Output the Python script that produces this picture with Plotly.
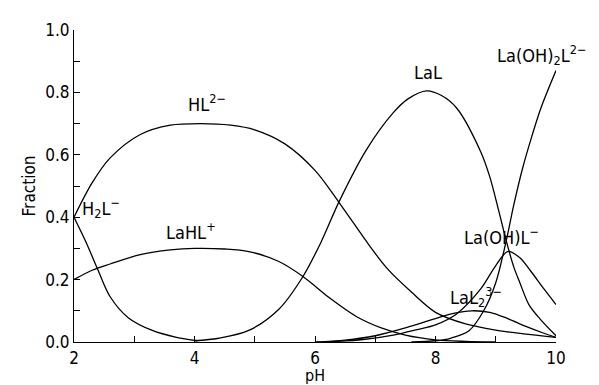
import plotly.graph_objects as go

# ---- data ----
ph_h2l = [2.0, 2.2, 2.4, 2.6, 2.9, 3.3, 3.7, 4.05]
fr_h2l = [0.40, 0.32, 0.23, 0.145, 0.078, 0.037, 0.015, 0.004]

ph_hl = [2.0, 2.3, 2.6, 3.1, 3.6, 4.1, 4.6, 5.0, 5.5, 6.0, 6.4, 6.9, 7.2, 7.6, 8.0, 8.5, 9.0, 9.5, 10.0]
fr_hl = [0.40, 0.51, 0.59, 0.665, 0.695, 0.70, 0.695, 0.68, 0.635, 0.55, 0.447, 0.31, 0.235, 0.16, 0.095, 0.058, 0.038, 0.025, 0.015]

ph_lahl = [2.0, 2.3, 2.6, 3.1, 3.6, 4.0, 4.5, 4.9, 5.4, 5.8, 6.25, 6.7, 7.1, 7.5, 8.0, 8.5, 9.0]
fr_lahl = [0.20, 0.23, 0.25, 0.28, 0.295, 0.30, 0.298, 0.29, 0.258, 0.21, 0.14, 0.08, 0.045, 0.022, 0.007, 0.002, 0.0]

ph_lal = [4.0, 4.4, 4.9, 5.4, 5.8, 6.1, 6.4, 6.85, 7.3, 7.55, 7.85, 8.1, 8.35, 8.75, 8.9, 9.05, 9.18, 9.3, 9.4, 9.55, 9.73, 10.0]
fr_lal = [0.004, 0.012, 0.037, 0.105, 0.21, 0.32, 0.45, 0.615, 0.735, 0.78, 0.805, 0.79, 0.75, 0.61, 0.53, 0.42, 0.32, 0.24, 0.19, 0.12, 0.075, 0.02]

ph_laoh2l = [7.6, 8.0, 8.25, 8.55, 8.8, 9.0, 9.18, 9.3, 9.45, 9.6, 9.75, 10.0]
fr_laoh2l = [0.0, 0.004, 0.012, 0.035, 0.10, 0.19, 0.33, 0.44, 0.56, 0.66, 0.75, 0.87]

ph_laohl = [6.2, 6.8, 7.3, 7.7, 8.0, 8.35, 8.75, 9.0, 9.2, 9.4, 9.57, 9.8, 10.0]
fr_laohl = [0.0, 0.008, 0.022, 0.04, 0.055, 0.09, 0.17, 0.245, 0.29, 0.27, 0.23, 0.17, 0.12]

ph_lal2 = [6.0, 6.5, 7.0, 7.5, 8.0, 8.3, 8.6, 8.9, 9.2, 9.5, 9.8, 10.0]
fr_lal2 = [0.0, 0.006, 0.02, 0.045, 0.075, 0.092, 0.10, 0.095, 0.075, 0.05, 0.028, 0.015]

x_ticks = [2, 4, 6, 8, 10]
y_ticks = [0.0, 0.2, 0.4, 0.6, 0.8, 1.0]

FONT = "DejaVu Sans Condensed, DejaVu Sans, sans-serif"

fig = go.Figure()
for xs, ys in [(ph_h2l, fr_h2l), (ph_hl, fr_hl), (ph_lahl, fr_lahl), (ph_lal, fr_lal),
               (ph_laoh2l, fr_laoh2l), (ph_laohl, fr_laohl), (ph_lal2, fr_lal2)]:
    fig.add_trace(go.Scatter(x=xs, y=ys, mode="lines",
                             line=dict(color="black", width=1.3, shape="spline", smoothing=0.9),
                             showlegend=False, hoverinfo="skip"))

labels = [
    (2.1, 0.43, "H<sub>2</sub>L<sup>−</sup>", "left"),
    (4.2, 0.765, "HL<sup>2−</sup>", "center"),
    (3.95, 0.355, "LaHL<sup>+</sup>", "center"),
    (7.88, 0.865, "LaL", "center"),
    (8.98, 0.92, "La(OH)<sub>2</sub>L<sup>2−</sup>", "left"),
    (9.1, 0.34, "La(OH)L<sup>−</sup>", "center"),
    (8.68, 0.145, "LaL<sub>2</sub><sup>3−</sup>", "center"),
]
for x, y, t, al in labels:
    fig.add_annotation(x=x, y=y, text=t, showarrow=False, xanchor=al, yanchor="middle",
                       font=dict(family=FONT, size=18, color="black"))

# x-axis title placed below the tick labels
fig.add_annotation(x=0.5, xref="paper", y=-0.108, yref="paper", text="pH", showarrow=False,
                   xanchor="center", yanchor="middle", font=dict(family=FONT, size=16, color="black"))

fig.update_layout(
    width=599, height=385,
    margin=dict(l=66, r=51, t=12, b=51),
    paper_bgcolor="white", plot_bgcolor="white",
    font=dict(family=FONT, size=16, color="black"),
)
fig.update_xaxes(range=[2, 10], tickvals=x_ticks, ticktext=[str(v) for v in x_ticks],
                 ticks="inside", ticklen=6, tickwidth=1, tickcolor="black",
                 minor=dict(dtick=1, ticks="inside", ticklen=6, tickcolor="black", tick0=2),
                 showline=True, linecolor="black", linewidth=1.2, showgrid=False, zeroline=False,
                 tickfont=dict(size=17), ticklabelstandoff=0)
fig.update_yaxes(range=[0, 1], tickvals=y_ticks, ticktext=[f"{v:.1f}" for v in y_ticks],
                 ticks="inside", ticklen=6, tickwidth=1, tickcolor="black",
                 minor=dict(dtick=0.1, ticks="inside", ticklen=6, tickcolor="black", tick0=0),
                 showline=True, linecolor="black", linewidth=1.2, showgrid=False, zeroline=False,
                 tickfont=dict(size=17), ticklabelstandoff=0,
                 title=dict(text="Fraction", standoff=5, font=dict(size=17)))

fig.write_html("out.html")
